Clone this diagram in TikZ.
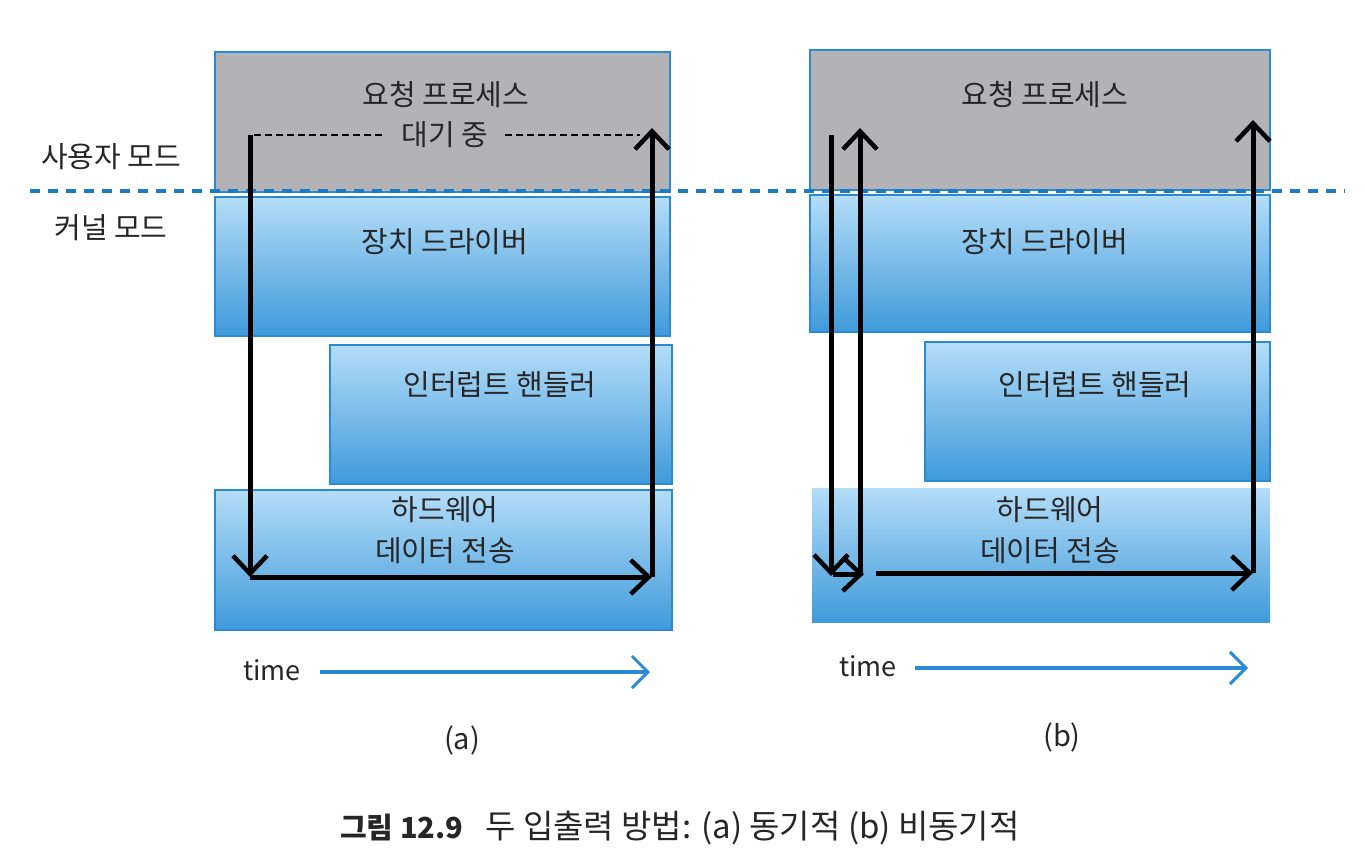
\documentclass[tikz,border=0pt]{standalone}
\usepackage{fontspec}
\setmainfont{Noto Sans CJK KR}
\usetikzlibrary{arrows.meta}
\definecolor{bord}{HTML}{2A8AD4}
\definecolor{grayfill}{HTML}{B3B3B5}
\definecolor{btop}{HTML}{B4DDF8}
\definecolor{bbot}{HTML}{3F9ADA}
\definecolor{dline}{HTML}{1A7CC6}
\tikzset{
  procbox/.style={draw=bord, line width=2.5pt, fill=grayfill},
  bluebox/.style={draw=bord, line width=2.5pt, top color=btop, bottom color=bbot},
  nobox/.style={top color=btop, bottom color=bbot},
  lbl/.style={font=\fontsize{29}{34}\selectfont, text=black!85, inner sep=0pt},
  flow/.style={line width=5pt, -{Straight Barb[length=18pt,width=34pt,line width=4.5pt]}},
  timearrow/.style={line width=3.5pt, draw=bord, -{Straight Barb[length=16pt,width=32pt,line width=3pt]}},
  waitline/.style={line width=1.2pt, dash pattern=on 7pt off 4pt},
}
\begin{document}
\begin{tikzpicture}[x=1pt,y=-1pt]
\useasboundingbox (0,0) rectangle (1366,862);
% (a) boxes
\draw[procbox] (215,52) rectangle (670,192);
\draw[bluebox] (215,197) rectangle (670,336);
\draw[bluebox] (330,345) rectangle (672,484);
\draw[bluebox] (215,490) rectangle (672,630);
% (b) boxes
\draw[procbox] (810,50) rectangle (1270,190);
\draw[bluebox] (810,195) rectangle (1270,332);
\draw[bluebox] (925,342) rectangle (1270,481);
\fill[nobox] (812,488) rectangle (1270,622);
% mode boundary
\coordinate (bl) at (30,191);
\coordinate (br) at (1345,191);
\draw[dline, line width=4pt, dash pattern=on 10pt off 8pt] (bl) -- (br);
% side labels
\node[lbl] (user) at (111,157) {사용자 모드};
\node[lbl] (kern) at (111,228) {커널 모드};
% box labels (a)
\node[lbl] (pa) at (446,95) {요청 프로세스};
\node[lbl] (wa) at (445,135) {대기 중};
\node[lbl] (da) at (445,242) {장치 드라이버};
\node[lbl] (ia) at (500,385) {인터럽트 핸들러};
\node[lbl] (ha1) at (445,510) {하드웨어};
\node[lbl] (ha2) at (445,551) {데이터 전송};
% box labels (b)
\node[lbl] (pb) at (1045,95) {요청 프로세스};
\node[lbl] (db) at (1045,242) {장치 드라이버};
\node[lbl] (ib) at (1095,385) {인터럽트 핸들러};
\node[lbl] (hb1) at (1050,510) {하드웨어};
\node[lbl] (hb2) at (1050,551) {데이터 전송};
% arrows (a)
\coordinate (a1) at (250,135);
\coordinate (a2) at (250,577);
\coordinate (a3) at (652,577);
\coordinate (a4) at (652,128);
\draw[flow] (a1) -- (a2);
\draw[flow] (a2) -- (a3);
\draw[flow] (a3) -- (a4);
\draw[waitline] (254,135) -- (385,135);
\draw[waitline] (505,135) -- (640,135);
% arrows (b)
\coordinate (b1) at (831,135);
\coordinate (b2) at (831,576);
\coordinate (b3) at (864,574);
\coordinate (b4) at (860,128);
\coordinate (b5) at (876,573);
\coordinate (b6) at (1253,573);
\coordinate (b7) at (1253,120);
\draw[flow] (b1) -- (b2);
\draw[flow] (833,574) -- (b3);
\draw[flow] (860,576) -- (b4);
\draw[flow] (b5) -- (b6);
\draw[flow] (b6) -- (b7);
% time axes
\node[lbl, font=\fontsize{27}{32}\selectfont] (ta) at (272,670) {time};
\coordinate (tas) at (320,672);
\coordinate (tae) at (650,672);
\draw[timearrow] (tas) -- (tae);
\node[lbl, font=\fontsize{27}{32}\selectfont] (tb) at (868,666) {time};
\coordinate (tbs) at (915,668);
\coordinate (tbe) at (1248,668);
\draw[timearrow] (tbs) -- (tbe);
% sub captions
\node[lbl] (capa) at (462,740) {(a)};
\node[lbl] (capb) at (1062,737) {(b)};
% caption
\node[lbl, anchor=west, font=\fontsize{29}{34}\selectfont] (cap) at (340,828) {\textbf{그림 12.9}\hspace{22pt}{\fontsize{33}{38}\selectfont 두 입출력 방법: (a) 동기적 (b) 비동기적}};
\end{tikzpicture}
\end{document}
